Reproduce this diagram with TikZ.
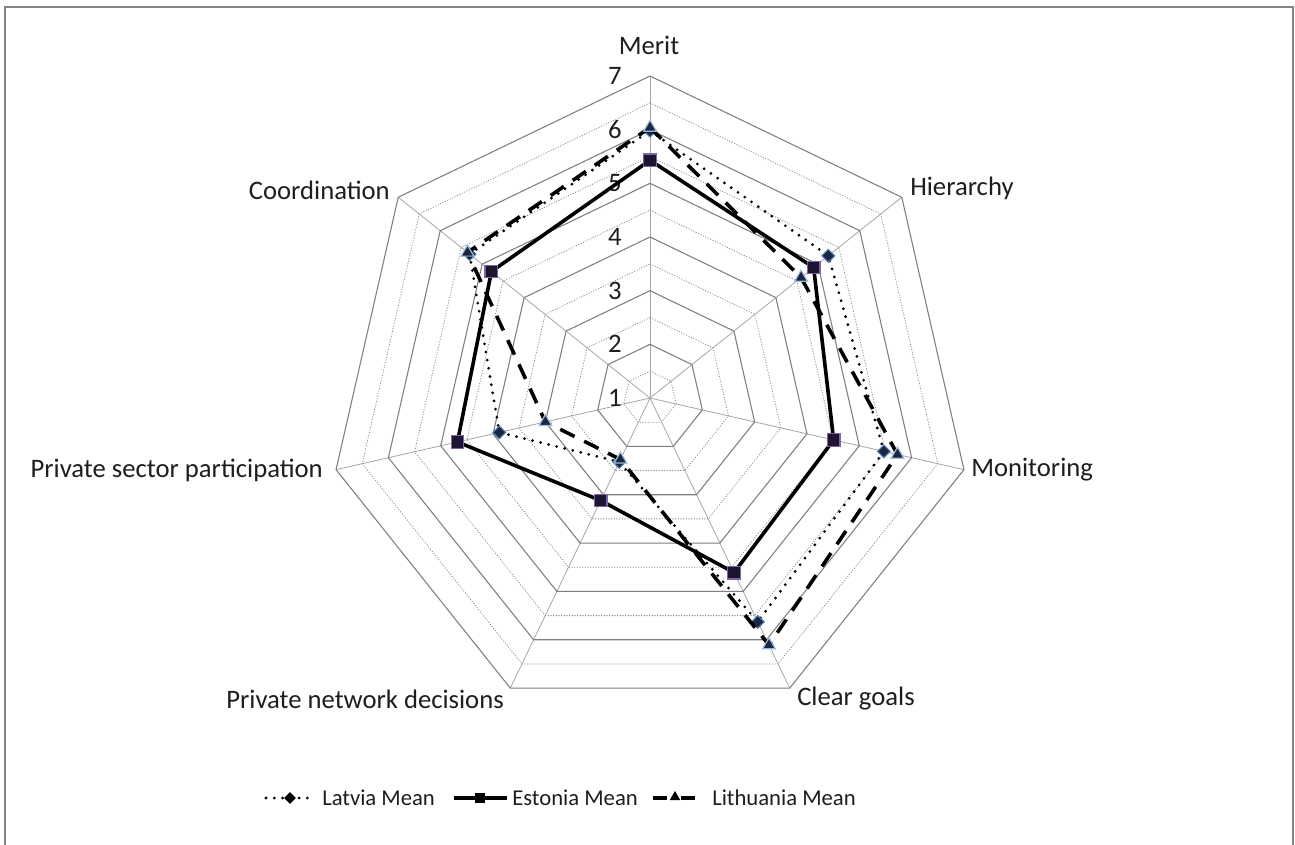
\documentclass[tikz,border=0pt]{standalone}
\usepackage{fontspec}
\setmainfont{Carlito}
\usetikzlibrary{calc,shapes.geometric}
\definecolor{framec}{HTML}{858585}
\definecolor{ringc}{HTML}{7F7F7F}
\definecolor{dotc}{HTML}{8C8C8C}
\definecolor{spokec}{HTML}{A6A6A6}
\definecolor{txt}{HTML}{1E1E1E}
\definecolor{mfill}{HTML}{1C2541}
\definecolor{sqfill}{HTML}{1C1430}
\definecolor{blueb}{HTML}{4F81BD}
\definecolor{purpb}{HTML}{8064A2}
\definecolor{lblue}{HTML}{9BBBD9}
\tikzset{
  framebox/.style={draw=framec, line width=1.6pt},
  ringsolid/.style={draw=ringc, line width=0.8pt},
  ringdot/.style={draw=dotc, line width=0.6pt, dash pattern=on 0.8pt off 1.2pt},
  spoke/.style={draw=spokec, line width=0.6pt},
  lbl/.style={text=txt, inner sep=0pt},
  leglbl/.style={text=txt, inner sep=0pt, font=\fontsize{17}{20}\selectfont},
  latline/.style={draw=black, line width=2.3pt, line cap=round, dash pattern=on 0pt off 6.2pt},
  estline/.style={draw=black, line width=2.7pt, line join=round},
  litline/.style={draw=black, line width=2.7pt, dash pattern=on 12pt off 8pt},
  latmark/.style={diamond, fill=mfill, draw=blueb, line width=0.8pt, minimum size=10pt, inner sep=0pt},
  estmark/.style={rectangle, fill=sqfill, draw=purpb, line width=0.9pt, minimum size=9.5pt, inner sep=0pt},
  litmark/.style={regular polygon, regular polygon sides=3, fill=mfill, draw=lblue, line width=0.9pt, minimum size=11pt, inner sep=0pt},
  leglat/.style={diamond, fill=black, minimum size=9pt, inner sep=0pt},
  legest/.style={rectangle, fill=black, minimum size=8pt, inner sep=0pt},
  leglit/.style={regular polygon, regular polygon sides=3, fill=black, minimum size=9pt, inner sep=0pt},
}
\newcommand{\cx}{650}
\newcommand{\cy}{398}
\newcommand{\uu}{53.67}
\begin{document}
\begin{tikzpicture}[x=0.75pt,y=-0.75pt, font=\fontsize{20}{23}\selectfont]
\useasboundingbox (0,0) rectangle (1295,844);
\fill[white] (0,0) rectangle (1295,844);
\begin{scope}
  \clip (0,0) rectangle (1295,844);
  \draw[framebox] (5,7) rectangle (1293,870);
\end{scope}
\coordinate (C) at (\cx,\cy);
% spokes
\foreach \k in {0,...,6} {
  \coordinate (A\k) at ({\cx+6*\uu*cos(90-\k*360/7)},{\cy-6*\uu*sin(90-\k*360/7)});
  \draw[spoke] (C) -- (A\k);
}
% half rings
\foreach \v in {1.5,2.5,3.5,4.5,5.5,6.5} {
  \draw[ringdot] plot[samples at={0,...,6}, variable=\k] ({\cx+(\v-1)*\uu*cos(90-\k*360/7)},{\cy-(\v-1)*\uu*sin(90-\k*360/7)}) -- cycle;
}
% integer rings
\foreach \v in {2,...,7} {
  \draw[ringsolid] plot[samples at={0,...,6}, variable=\k] ({\cx+(\v-1)*\uu*cos(90-\k*360/7)},{\cy-(\v-1)*\uu*sin(90-\k*360/7)}) -- cycle;
}
% scale labels
\foreach \v in {1,...,7} {
  \node[lbl, anchor=east] (S\v) at (622,{\cy-(\v-1)*\uu}) {\v};
}
% category labels
\node[lbl] (merit) at (649,45) {Merit};
\node[lbl, anchor=west] (hier) at (910,188) {Hierarchy};
\node[lbl, anchor=west] (moni) at (971,470) {Monitoring};
\node[lbl, anchor=west] (clear) at (797,699) {Clear goals};
\node[lbl, anchor=east] (pnd) at (504,699) {Private network decisions};
\node[lbl, anchor=east] (psp) at (323,470) {Private sector participation};
\node[lbl, anchor=east] (coord) at (390,190) {Coordination};
% data points
\foreach \k/\v in {0/5.98,1/5.25,2/5.47,3/5.63,4/2.32,5/3.88,6/5.3} {
  \coordinate (L\k) at ({\cx+(\v-1)*\uu*cos(90-\k*360/7)},{\cy-(\v-1)*\uu*sin(90-\k*360/7)});
}
\foreach \k/\v in {0/5.43,1/4.9,2/4.51,3/4.61,4/3.12,5/4.68,6/4.78} {
  \coordinate (E\k) at ({\cx+(\v-1)*\uu*cos(90-\k*360/7)},{\cy-(\v-1)*\uu*sin(90-\k*360/7)});
}
\foreach \k/\v in {0/6.04,1/4.6,2/5.73,3/6.11,4/2.27,5/3.0,6/5.35} {
  \coordinate (T\k) at ({\cx+(\v-1)*\uu*cos(90-\k*360/7)},{\cy-(\v-1)*\uu*sin(90-\k*360/7)});
}
% series
\draw[latline] (L0) -- (L1) -- (L2) -- (L3) -- (L4) -- (L5) -- (L6) -- cycle;
\foreach \k in {0,...,6} { \node[latmark] (LM\k) at (L\k) {}; }
\draw[estline] (E0) -- (E1) -- (E2) -- (E3) -- (E4) -- (E5) -- (E6) -- cycle;
\foreach \k in {0,...,6} { \node[estmark] (EM\k) at (E\k) {}; }
\draw[litline] (T0) -- (T1) -- (T2) -- (T3) -- (T4) -- (T5) -- (T6) -- cycle;
\foreach \k in {0,...,6} { \node[litmark] (TM\k) at (T\k) {}; }
% legend
\coordinate (la) at (266,798); \coordinate (lb) at (315,798);
\draw[latline] (la) -- (lb);
\node[leglat] (lgl) at (290,798) {};
\node[leglbl, anchor=west] (lgltxt) at (322,798) {Latvia Mean};
\coordinate (ea) at (454,798); \coordinate (eb) at (507,798);
\draw[estline] (ea) -- (eb);
\node[legest] (lge) at (480,798) {};
\node[leglbl, anchor=west] (lgetxt) at (512,798) {Estonia Mean};
\coordinate (ta) at (653,798); \coordinate (tb) at (695,798);
\draw[black, line width=2.7pt] (ta) -- (667,798);
\draw[black, line width=2.7pt] (681,798) -- (tb);
\node[leglit] (lgt) at (675,797) {};
\node[leglbl, anchor=west] (lgttxt) at (712,798) {Lithuania Mean};
\end{tikzpicture}
\end{document}
